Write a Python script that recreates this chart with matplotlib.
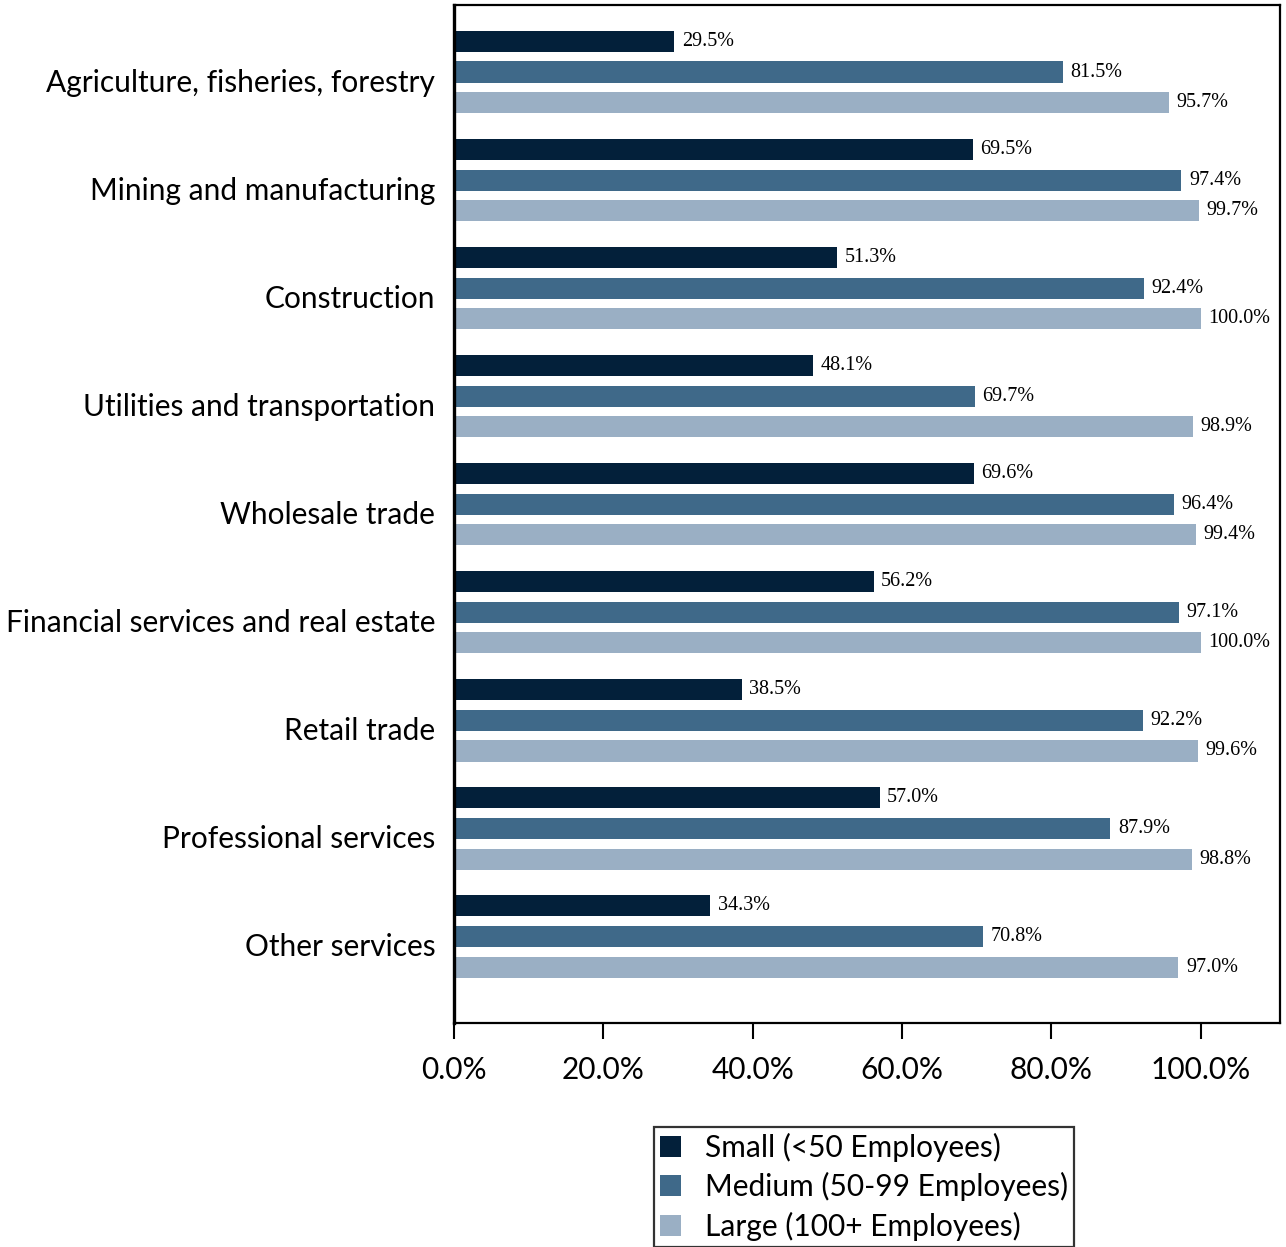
import matplotlib
matplotlib.use("Agg")
import matplotlib.pyplot as plt
from matplotlib.patches import Patch
from matplotlib.transforms import ScaledTranslation
import numpy as np

categories = ["Agriculture, fisheries, forestry", "Mining and manufacturing", "Construction",
              "Utilities and transportation", "Wholesale trade", "Financial services and real estate",
              "Retail trade", "Professional services", "Other services"]
small = [29.5, 69.5, 51.3, 48.1, 69.6, 56.2, 38.5, 57.0, 34.3]
medium = [81.5, 97.4, 92.4, 69.7, 96.4, 97.1, 92.2, 87.9, 70.8]
large = [95.7, 99.7, 100.0, 98.9, 99.4, 100.0, 99.6, 98.8, 97.0]
series_names = ["Small (<50 Employees)", "Medium (50-99 Employees)", "Large (100+ Employees)"]
colors = ["#03203A", "#3F6989", "#9AAFC4"]
xticks = [0, 20, 40, 60, 80, 100]

W, H = 1286, 1247
fig = plt.figure(figsize=(W / 100, H / 100), dpi=100)
ax = fig.add_axes([454 / W, 1 - 1023 / H, (1280 - 454) / W, (1023 - 5) / H])

y = np.arange(len(categories))
offs = [-0.283, 0.0, 0.283]
bh = 0.195
for vals, off, c in zip([small, medium, large], offs, colors):
    bars = ax.barh(y + off, vals, height=bh, color=c)
    for b, v in zip(bars, vals):
        ax.text(v + 1.0, b.get_y() + b.get_height() / 2, f"{v:.1f}%", va="center", ha="left",
                fontsize=14.5, family="Liberation Serif", color="black")

ax.set_xlim(0, 110.6)
ax.set_ylim(len(categories) - 1 + 0.80, -0.62)
ax.set_yticks(y)
ax.set_yticklabels(categories, fontsize=21.5, family="Lato")
ax.tick_params(axis="y", length=0, pad=13.5)
shift = ScaledTranslation(0, -8 / 100, fig.dpi_scale_trans)
for lab in ax.get_yticklabels():
    lab.set_transform(lab.get_transform() + shift)
ax.set_xticks(xticks)
ax.set_xticklabels([f"{t:.1f}%" for t in xticks], fontsize=21.5, family="Lato")
ax.tick_params(axis="x", length=11.5, width=1.5, direction="out", pad=12)
for s in ["top", "right", "bottom"]:
    ax.spines[s].set_linewidth(1.6)
ax.spines["left"].set_linewidth(2.4)

handles = [Patch(facecolor=c, edgecolor="none") for c in colors]
leg = fig.legend(handles, series_names, loc="upper left",
                 bbox_to_anchor=(654 / W, 1 - 1127 / H), bbox_transform=fig.transFigure,
                 prop={"family": "Lato", "size": 21.5}, frameon=True, fancybox=False,
                 edgecolor="black", handlelength=0.7, handleheight=0.7, handletextpad=0.8,
                 labelspacing=0.34, borderpad=0.2, borderaxespad=0)
leg.get_frame().set_linewidth(1.6)

fig.savefig("out.png", dpi=100)
